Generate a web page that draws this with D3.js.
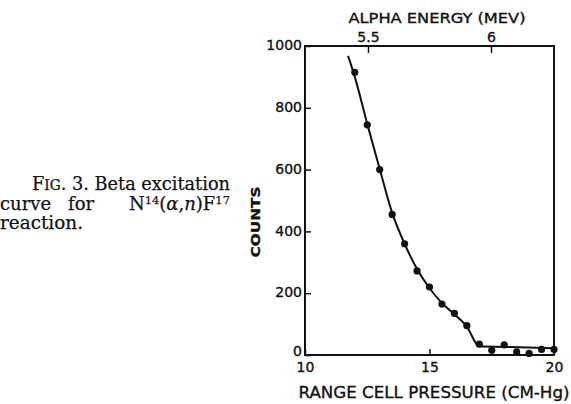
<!DOCTYPE html>
<html>
<head>
<meta charset="utf-8">
<script src="https://cdn.jsdelivr.net/npm/d3@7"></script>
<style>
  html, body { margin: 0; padding: 0; background: #fff; }
  svg { display: block; }
  .lab { font-family: "DejaVu Sans", sans-serif; fill: #111; stroke: #111; stroke-width: 0.35px; }
  .cap { font-family: "DejaVu Serif", serif; fill: #111; stroke: #111; stroke-width: 0.25px; }
</style>
</head>
<body>
<svg id="chart" width="571" height="404"></svg>
<script>
// ---- data ----
const pressure = [12, 12.5, 13, 13.5, 14, 14.5, 15, 15.5, 16, 16.5, 17, 17.5, 18, 18.5, 19, 19.5, 20];
const counts   = [915, 745, 600, 455, 360, 272, 220, 165, 135, 95, 35, 15, 33, 10, 5, 18, 18];
// hand-drawn fitted curve
const curveX = [11.73, 12, 12.5, 13, 13.5, 14, 14.5, 15, 15.5, 16, 16.5, 17.0, 18, 19, 20];
const curveY = [968, 900, 748, 602, 460, 360, 278, 216, 168, 132, 92, 28, 26, 24, 22];
const xTicks = [10, 15, 20];
const yTicks = [0, 200, 400, 600, 800, 1000];
const energyTicks = [5.5, 6];
const energyAtPressure = [12.53, 17.47]; // pressures where 5.5 and 6 MeV lie

const svg = d3.select("#chart");
const x = d3.scaleLinear().domain([10, 20]).range([305, 554]);
const y = d3.scaleLinear().domain([0, 1000]).range([355, 46]);
const xe = d3.scaleLinear().domain(energyTicks).range(energyAtPressure.map(x));

const ink = "#111";

// frame
svg.append("rect")
  .attr("x", x(10)).attr("y", y(1000))
  .attr("width", x(20) - x(10)).attr("height", y(0) - y(1000))
  .attr("fill", "none").attr("stroke", ink).attr("stroke-width", 2);

// bottom axis (ticks inside)
const gb = svg.append("g").attr("transform", `translate(0,${y(0)})`)
  .call(d3.axisBottom(x).tickValues(xTicks).tickSizeInner(-6).tickSizeOuter(0).tickPadding(14).tickFormat(d3.format("d")));
gb.select(".domain").remove();
gb.selectAll("line").attr("stroke", ink).attr("stroke-width", 1.5);
gb.selectAll("text").attr("class", "lab").style("font-size", "14px").attr("dy", "0.22em");

// left axis (ticks inside)
const gl = svg.append("g").attr("transform", `translate(${x(10)},0)`)
  .call(d3.axisLeft(y).tickValues(yTicks).tickSizeInner(-6).tickSizeOuter(0).tickPadding(3).tickFormat(d3.format("d")));
gl.select(".domain").remove();
gl.selectAll("line").attr("stroke", ink).attr("stroke-width", 1.5);
gl.selectAll("text").attr("class", "lab").style("font-size", "14px").attr("dy", d => d === 0 ? "0.02em" : "0.26em");

// top axis (energy), ticks inside
const gt = svg.append("g").attr("transform", `translate(0,${y(1000)})`)
  .call(d3.axisTop(xe).tickValues(energyTicks).tickSizeInner(-7).tickSizeOuter(0).tickPadding(4).tickFormat(d => d === 6 ? "6" : d3.format(".1f")(d)));
gt.select(".domain").remove();
gt.selectAll("line").attr("stroke", ink).attr("stroke-width", 1.5);
gt.selectAll("text").attr("class", "lab").style("font-size", "14px").attr("dy", "0em");

// fitted curve
const pts = curveX.map((v, i) => [v, curveY[i]]);
svg.append("path")
  .datum(pts)
  .attr("fill", "none").attr("stroke", ink).attr("stroke-width", 2)
  .attr("d", d3.line().x(d => x(d[0])).y(d => y(d[1])).curve(d3.curveMonotoneX));

// data points
svg.append("g").selectAll("circle")
  .data(pressure.map((p, i) => [p, counts[i]]))
  .join("circle")
  .attr("cx", d => x(d[0])).attr("cy", d => y(d[1]))
  .attr("r", 3.6).attr("fill", ink);

// axis titles
svg.append("text").attr("class", "lab")
  .attr("x", 437).attr("y", 23).attr("text-anchor", "middle")
  .style("font-size", "14px").attr("textLength", 177).attr("lengthAdjust", "spacingAndGlyphs")
  .text("ALPHA ENERGY (MEV)");

svg.append("text").attr("class", "lab")
  .attr("x", 434).attr("y", 398).attr("text-anchor", "middle")
  .style("font-size", "16px").attr("textLength", 271).attr("lengthAdjust", "spacingAndGlyphs")
  .text("RANGE CELL PRESSURE (CM-Hg)");

svg.append("text").attr("class", "lab")
  .attr("transform", "translate(260,222) rotate(-90)").attr("text-anchor", "middle")
  .style("font-size", "13px").style("font-weight", "bold").attr("textLength", 71).attr("lengthAdjust", "spacingAndGlyphs")
  .text("COUNTS");

// caption
const capSize = "18px";
const supSize = "11.5px";
const c1 = svg.append("text").attr("class", "cap").attr("x", 32).attr("y", 190).style("font-size", capSize)
  .attr("textLength", 198).attr("lengthAdjust", "spacingAndGlyphs");
c1.append("tspan").text("F");
c1.append("tspan").style("font-size", "14px").text("IG");
c1.append("tspan").text(". 3. Beta excitation");

svg.append("text").attr("class", "cap").attr("x", 0).attr("y", 210).style("font-size", capSize).text("curve");
svg.append("text").attr("class", "cap").attr("x", 68).attr("y", 210).style("font-size", capSize).text("for");
const c2 = svg.append("text").attr("class", "cap").attr("x", 230).attr("y", 210).attr("text-anchor", "end").style("font-size", capSize);
c2.append("tspan").text("N");
c2.append("tspan").style("font-size", supSize).attr("dy", "-6").text("14");
c2.append("tspan").attr("dy", "6").text("(");
c2.append("tspan").style("font-style", "italic").text("α");
c2.append("tspan").text(",");
c2.append("tspan").style("font-style", "italic").text("n");
c2.append("tspan").text(")F");
c2.append("tspan").style("font-size", supSize).attr("dy", "-6").text("17");

svg.append("text").attr("class", "cap").attr("x", 0).attr("y", 229).style("font-size", capSize)
  .attr("textLength", 83).attr("lengthAdjust", "spacingAndGlyphs").text("reaction.");
</script>
</body>
</html>
